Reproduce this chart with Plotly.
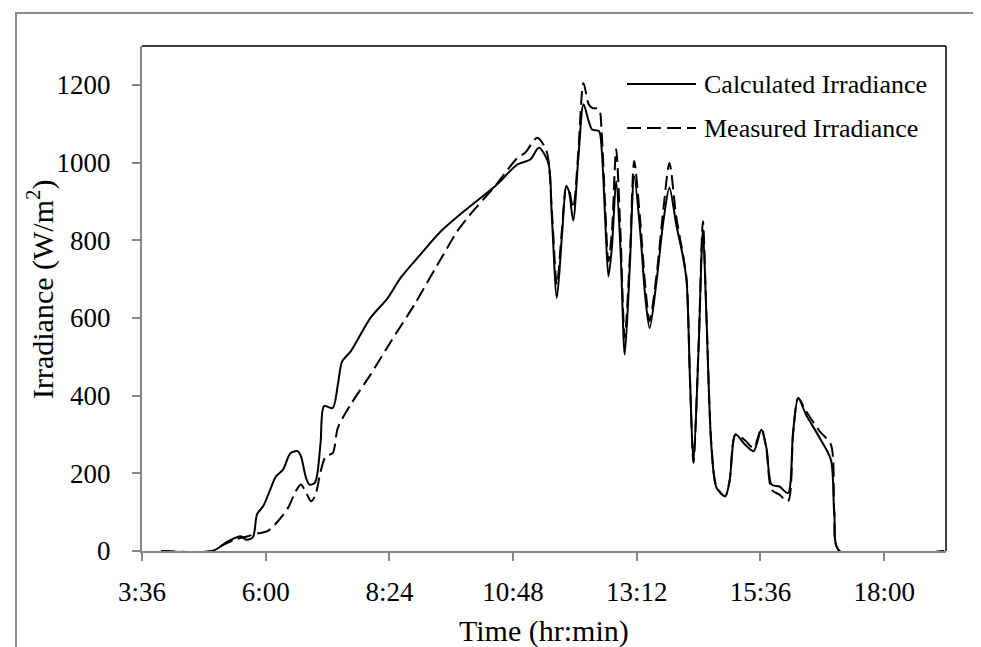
import plotly.graph_objects as go
import pandas as pd

# ---- data ----
calc_time = ["03:58", "04:58", "05:16", "05:31", "05:37", "05:45", "05:50", "05:57", "06:06", "06:12",
             "06:20", "06:29", "06:37", "06:41", "06:47", "06:51", "06:57", "07:00", "07:04", "07:08",
             "07:18", "07:24", "07:29", "07:39", "08:02", "08:22", "08:37", "09:00", "09:24", "09:51",
             "10:29", "10:53", "11:08", "11:18", "11:29", "11:33", "11:39", "11:45", "11:50", "11:53",
             "11:58", "12:04", "12:10", "12:16", "12:20", "12:28", "12:31", "12:35", "12:39", "12:43",
             "12:48", "12:53", "12:58", "13:04", "13:09", "13:16", "13:22", "13:27", "13:35", "13:43",
             "13:50", "13:58", "14:06", "14:10", "14:14", "14:18", "14:24", "14:29", "14:33", "14:39",
             "14:45", "14:55", "15:00", "15:07", "15:18", "15:28", "15:37", "15:43", "15:49", "15:58",
             "16:08", "16:14", "16:20", "16:29", "16:45", "16:58", "17:02", "17:08", "19:10"]
calc_irr = [0, 0, 25, 38, 29, 35, 95, 115, 162, 192,
            209, 252, 257, 244, 188, 171, 175, 197, 282, 373,
            368, 428, 488, 514, 600, 651, 703, 763, 823, 875,
            943, 995, 1008, 1038, 999, 866, 651, 815, 939, 926,
            851, 1012, 1150, 1107, 1085, 1081, 1038, 866, 707, 780,
            952, 780, 506, 737, 965, 823, 651, 574, 694, 849,
            935, 840, 755, 694, 437, 227, 523, 828, 609, 265,
            162, 141, 179, 300, 274, 257, 312, 265, 171, 166,
            149, 308, 394, 351, 291, 235, 93, 0, 0]

meas_time = ["03:58", "04:58", "05:10", "05:25", "05:39", "05:50", "06:02", "06:14", "06:26", "06:35",
             "06:41", "06:47", "06:53", "06:58", "07:04", "07:10", "07:18", "07:24", "07:39", "08:02",
             "08:26", "08:53", "09:20", "09:43", "09:55", "10:29", "10:53", "11:02", "11:16", "11:27",
             "11:33", "11:39", "11:45", "11:50", "11:53", "11:58", "12:04", "12:10", "12:16", "12:20",
             "12:28", "12:31", "12:35", "12:39", "12:43", "12:48", "12:53", "12:58", "13:04", "13:09",
             "13:16", "13:22", "13:27", "13:35", "13:43", "13:50", "13:58", "14:06", "14:10", "14:14",
             "14:18", "14:24", "14:29", "14:33", "14:39", "14:45", "14:55", "15:00", "15:07", "15:18",
             "15:28", "15:37", "15:43", "15:49", "15:58", "16:08", "16:14", "16:20", "16:29", "16:45",
             "16:58", "17:02", "17:08", "19:10"]
meas_irr = [0, 0, 15, 30, 38, 45, 51, 76, 111, 154,
            171, 150, 128, 145, 205, 244, 252, 317, 377, 454,
            540, 634, 737, 823, 858, 945, 1012, 1025, 1064, 1029,
            880, 686, 830, 939, 930, 883, 1030, 1205, 1150, 1141,
            1137, 1081, 900, 746, 820, 1034, 820, 549, 760, 1004,
            850, 680, 592, 710, 880, 999, 860, 760, 700, 440,
            227, 530, 849, 615, 270, 165, 141, 180, 300, 285,
            265, 315, 260, 158, 145, 128, 300, 394, 360, 308,
            274, 100, 0, 0]

series_names = ["Calculated Irradiance", "Measured Irradiance"]
x_title = "Time (hr:min)"
y_title = "Irradiance (W/m<sup>2</sup>)"

DAY = "2000-01-01 "
calc_x = pd.to_datetime([DAY + t for t in calc_time])
meas_x = pd.to_datetime([DAY + t for t in meas_time])

FONT = "Liberation Serif, Times New Roman, serif"
AXIS_GRAY = "#868686"
DASH = "14px,6px"

fig = go.Figure()
fig.add_trace(go.Scatter(x=calc_x, y=calc_irr, mode="lines", name=series_names[0],
                         line=dict(color="black", width=2, shape="spline", smoothing=0.8),
                         showlegend=False))
fig.add_trace(go.Scatter(x=meas_x, y=meas_irr, mode="lines", name=series_names[1],
                         line=dict(color="black", width=2, dash=DASH, shape="spline", smoothing=0.8),
                         showlegend=False))

L, R, T, B = 134, 43, 38, 104
W, H = 981, 647
pw, ph = W - L - R, H - T - B

def px(x):
    return (x - L) / pw

def py(y):
    return (H - B - y) / ph

fig.update_layout(
    width=W, height=H,
    margin=dict(l=L, r=R, t=T, b=B, pad=0),
    paper_bgcolor="white", plot_bgcolor="white",
    font=dict(family=FONT, size=27, color="black"),
    showlegend=False,
    xaxis=dict(
        type="date",
        range=[DAY + "03:36", DAY + "19:12"],
        tick0=DAY + "03:36", dtick=2.4 * 3600 * 1000,
        tickformat="%-H:%M",
        showgrid=False, zeroline=False,
        showline=True, linecolor=AXIS_GRAY, linewidth=2,
        ticks="outside", ticklen=8, tickwidth=2, tickcolor=AXIS_GRAY,
        tickfont=dict(family=FONT, size=27, color="black"),
        ticklabelstandoff=8,
    ),
    yaxis=dict(
        range=[0, 1300], tick0=0, dtick=200,
        showgrid=False, zeroline=False,
        showline=True, linecolor=AXIS_GRAY, linewidth=2,
        ticks="outside", ticklen=8, tickwidth=2, tickcolor=AXIS_GRAY,
        tickfont=dict(family=FONT, size=27, color="black"),
        ticklabelstandoff=16,
    ),
)

shapes = [
    # outer chart frame (right side runs off the picture)
    dict(type="rect", xref="paper", yref="paper", x0=px(8), x1=px(1010), y0=py(646), y1=py(5),
         line=dict(color="#8c8c8c", width=2), layer="below"),
    # plot area border (top and right)
    dict(type="line", xref="paper", yref="paper", x0=0, x1=1, y0=1, y1=1,
         line=dict(color="black", width=1.5)),
    dict(type="line", xref="paper", yref="paper", x0=1, x1=1, y0=0, y1=1,
         line=dict(color="black", width=1.5)),
    # legend keys
    dict(type="line", xref="paper", yref="paper", x0=px(619), x1=px(688), y0=py(76), y1=py(76),
         line=dict(color="black", width=2)),
    dict(type="line", xref="paper", yref="paper", x0=px(619), x1=px(688), y0=py(120), y1=py(120),
         line=dict(color="black", width=2, dash=DASH)),
]
fig.update_layout(shapes=shapes)

annotations = [
    dict(text=series_names[0], xref="paper", yref="paper", x=px(694), y=py(77),
         xanchor="left", yanchor="middle", showarrow=False, font=dict(size=26)),
    dict(text=series_names[1], xref="paper", yref="paper", x=px(694), y=py(120),
         xanchor="left", yanchor="middle", showarrow=False, font=dict(size=26)),
    dict(text=x_title, xref="paper", yref="paper", x=0.5, y=py(623),
         xanchor="center", yanchor="middle", showarrow=False, font=dict(size=30)),
    dict(text=y_title, xref="paper", yref="paper", x=px(32), y=py(281),
         xanchor="center", yanchor="middle", textangle=-90, showarrow=False, font=dict(size=30)),
]
fig.update_layout(annotations=annotations)

fig.write_html("out.html")
